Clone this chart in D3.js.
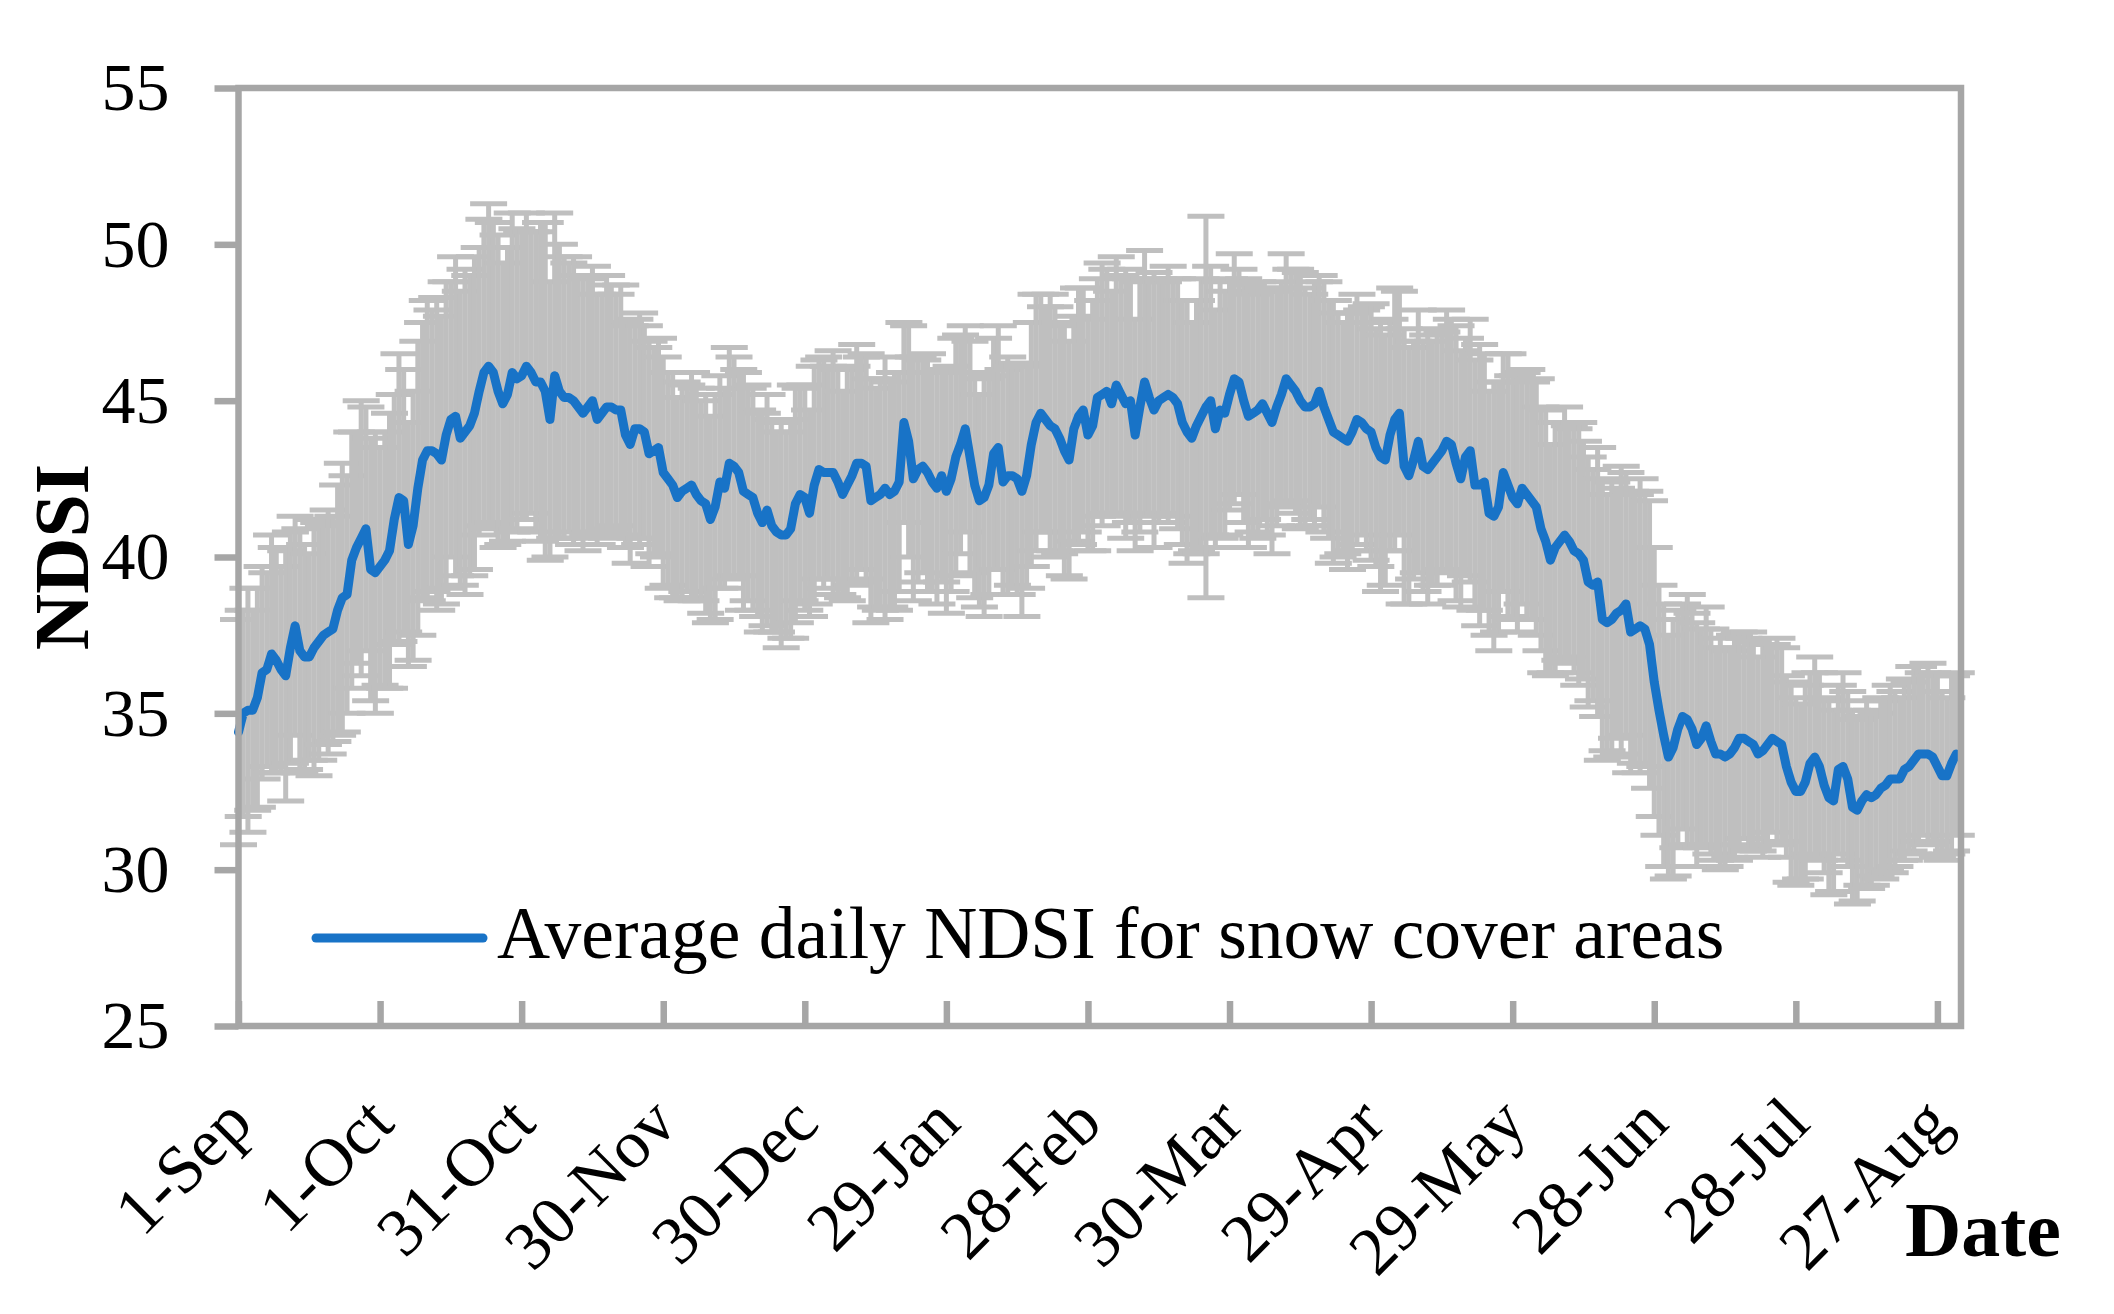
<!DOCTYPE html>
<html>
<head>
<meta charset="utf-8">
<script src="https://cdn.jsdelivr.net/npm/d3@7/dist/d3.min.js"></script>
<style>
  html, body { margin: 0; padding: 0; background: #ffffff; }
  svg { display: block; }
  text { font-family: "Liberation Serif", "Times New Roman", serif; fill: #000; }
</style>
</head>
<body>
<svg id="chart" width="2114" height="1314"></svg>
<script>
// ---------------- DATA ----------------
// Day index 0 = 1-Sep ... 364 = 31-Aug
const tickDays   = [0, 30, 60, 90, 120, 150, 180, 210, 240, 270, 300, 330, 360];
const tickLabels = ["1-Sep","1-Oct","31-Oct","30-Nov","30-Dec","29-Jan","28-Feb","30-Mar","29-Apr","29-May","28-Jun","28-Jul","27-Aug"];
const yTicks     = [25, 30, 35, 40, 45, 50, 55];
const seriesName = "Average daily NDSI for snow cover areas";

// Average daily NDSI
const ndsiMean = [
  34.4,35.0,35.1,35.1,35.5,36.3,36.4,36.9,36.7,36.4,
  36.2,37.1,37.8,37.0,36.8,36.8,37.1,37.3,37.5,37.6,
  37.7,38.3,38.7,38.8,39.9,40.3,40.6,40.9,39.6,39.5,
  39.7,39.9,40.2,41.2,41.9,41.8,40.4,41.0,42.2,43.1,
  43.4,43.4,43.3,43.1,43.9,44.4,44.5,43.8,44.0,44.2,
  44.6,45.3,45.9,46.1,45.9,45.3,44.9,45.2,45.9,45.7,
  45.8,46.1,45.9,45.6,45.6,45.3,44.4,45.8,45.3,45.1,
  45.1,45.0,44.8,44.6,44.8,45.0,44.4,44.6,44.8,44.8,
  44.7,44.7,43.9,43.6,44.1,44.1,44.0,43.3,43.4,43.5,
  42.7,42.5,42.3,41.9,42.1,42.2,42.3,42.0,41.8,41.7,
  41.2,41.6,42.4,42.2,43.0,42.9,42.7,42.1,42.0,41.9,
  41.4,41.1,41.5,41.0,40.8,40.7,40.7,40.9,41.7,42.0,
  41.9,41.4,42.3,42.8,42.7,42.7,42.7,42.4,42.0,42.3,
  42.6,43.0,43.0,42.9,41.8,41.9,42.0,42.2,42.0,42.1,
  42.4,44.3,43.7,42.5,42.8,42.9,42.7,42.4,42.2,42.6,
  42.1,42.5,43.2,43.6,44.1,43.2,42.3,41.8,41.9,42.3,
  43.3,43.5,42.4,42.6,42.6,42.5,42.1,42.6,43.6,44.3,
  44.6,44.4,44.2,44.1,43.8,43.4,43.1,44.1,44.5,44.7,
  43.9,44.2,45.1,45.2,45.3,44.9,45.5,45.2,44.9,45.0,
  43.9,44.8,45.6,45.1,44.7,45.0,45.1,45.2,45.1,44.9,
  44.3,44.0,43.8,44.2,44.5,44.8,45.0,44.1,44.7,44.6,
  45.2,45.7,45.6,45.0,44.5,44.6,44.7,44.9,44.6,44.3,
  44.8,45.2,45.7,45.5,45.3,45.0,44.8,44.8,44.9,45.3,
  44.8,44.4,44.0,43.9,43.8,43.7,44.0,44.4,44.3,44.1,
  44.0,43.5,43.2,43.1,43.9,44.4,44.6,42.9,42.6,43.1,
  43.7,42.9,42.8,43.0,43.2,43.4,43.7,43.6,43.0,42.5,
  43.2,43.4,42.3,42.3,42.4,41.4,41.3,41.6,42.7,42.3,
  41.9,41.7,42.2,42.0,41.8,41.6,40.9,40.5,39.9,40.3,
  40.5,40.7,40.5,40.2,40.1,39.9,39.2,39.1,39.2,38.0,
  37.9,38.0,38.2,38.3,38.5,37.6,37.7,37.8,37.7,37.2,
  36.0,35.1,34.3,33.6,33.9,34.5,34.9,34.8,34.5,34.0,
  34.2,34.6,34.1,33.7,33.7,33.6,33.7,33.9,34.2,34.2,
  34.1,34.0,33.7,33.8,34.0,34.2,34.1,34.0,33.3,32.8,
  32.5,32.5,32.8,33.4,33.6,33.3,32.7,32.3,32.2,33.2,
  33.3,32.9,32.0,31.9,32.2,32.4,32.3,32.4,32.6,32.7,
  32.9,32.9,32.9,33.2,33.3,33.5,33.7,33.7,33.7,33.6,
  33.3,33.0,33.0,33.4,33.7
];

// Standard deviation (error bar half-length)
const ndsiErr = [
  3.6,3.3,3.9,3.2,3.5,3.4,3.1,3.8,3.6,3.3,
  4.0,3.7,3.5,3.9,3.6,3.3,4.1,3.8,3.5,3.9,
  3.6,4.0,4.3,3.8,4.1,3.7,4.4,3.9,4.2,4.5,
  3.8,4.1,4.4,4.0,4.6,4.2,3.9,4.3,4.7,4.4,
  4.8,4.5,5.0,4.6,4.9,4.4,5.1,4.7,5.2,4.8,
  5.0,4.6,4.9,5.2,4.8,5.0,4.5,4.7,5.1,4.8,
  4.6,4.9,4.5,4.8,5.1,5.4,4.4,5.2,4.7,4.5,
  4.3,4.6,4.2,4.4,4.1,4.3,4.0,3.8,4.2,3.9,
  3.7,4.0,3.6,3.8,3.5,3.7,3.4,3.6,3.3,3.5,
  3.7,3.4,3.6,3.2,3.5,3.3,3.6,3.4,3.2,3.5,
  3.3,3.6,3.4,3.2,3.7,3.5,3.3,3.8,3.4,3.6,
  3.3,3.5,3.7,3.4,3.2,3.6,3.3,3.5,3.8,3.4,
  3.6,3.3,3.8,3.5,3.7,3.4,3.9,3.6,3.3,3.7,
  3.5,3.8,3.4,3.6,3.9,3.5,3.7,4.2,3.6,3.8,
  3.5,3.2,3.7,3.9,3.6,3.4,3.8,3.5,3.7,3.4,
  3.9,3.6,3.8,3.5,3.3,3.7,3.6,3.4,3.8,3.5,
  3.7,3.9,3.6,3.8,3.5,3.7,4.0,3.6,3.9,4.1,
  3.8,3.6,4.2,3.9,3.7,4.0,3.8,3.6,4.1,3.9,
  3.7,4.0,3.8,4.2,3.9,3.6,4.1,3.8,4.3,3.9,
  3.7,4.0,4.2,3.8,4.4,3.9,3.7,4.1,3.8,4.0,
  3.9,4.2,3.7,4.0,4.4,6.1,4.3,3.8,4.1,3.9,
  3.7,4.0,3.6,3.9,4.2,3.8,4.1,3.7,3.9,4.2,
  3.8,3.6,4.0,3.7,3.9,4.1,3.8,3.6,3.9,3.7,
  4.0,3.8,4.2,3.9,3.7,4.1,3.8,4.0,3.6,3.9,
  4.1,3.8,4.3,4.0,3.7,4.2,3.9,4.4,4.1,3.8,
  4.2,4.0,4.3,3.9,4.1,3.8,4.2,4.0,4.4,4.1,
  3.8,4.2,4.0,4.5,4.1,3.9,4.3,4.0,3.8,4.2,
  3.9,4.1,3.7,4.0,3.8,4.1,3.9,4.2,3.7,4.0,
  3.8,4.1,3.7,3.9,4.2,3.8,4.0,3.7,4.3,4.5,
  4.1,4.4,4.0,4.6,4.2,4.5,4.3,4.7,4.4,4.6,
  4.3,4.0,4.2,3.9,4.1,3.8,3.6,4.0,3.7,3.9,
  3.5,3.8,3.6,3.4,3.7,3.5,3.3,3.6,3.4,3.2,
  3.5,3.3,3.1,3.4,3.2,3.0,3.3,3.1,2.9,3.2,
  3.0,2.8,3.1,2.9,3.2,3.0,2.8,3.1,2.9,2.7,
  3.0,2.8,3.1,2.9,2.7,3.0,2.8,2.6,2.9,2.7,
  3.0,2.8,2.6,2.9,2.7,3.0,2.8,2.6,2.9,2.7,
  2.9,2.7,2.5,2.8,2.6
];

// ---------------- CHART ----------------
const svg = d3.select("#chart");
const W = 2114, H = 1314;
const plot = { left: 238.5, right: 1961, top: 88, bottom: 1026 };

const AXIS_GREY = "#a6a6a6";
const ERR_GREY  = "#bfbfbf";
const LINE_BLUE = "#1873c7";

svg.append("rect").attr("width", W).attr("height", H).attr("fill", "#ffffff");

const x = d3.scaleLinear().domain([0, 365]).range([plot.left, plot.right]);
const y = d3.scaleLinear().domain([25, 55]).range([plot.bottom, plot.top]);

const data = ndsiMean.map((m, i) => ({ day: i, mean: m, err: ndsiErr[i] }));

// error bars
const eb = svg.append("g").attr("stroke", ERR_GREY).attr("stroke-width", 5).attr("fill", "none");
const capHalf = 18.5;
data.forEach(d => {
  const xc = x(d.day), yTop = y(d.mean + d.err), yBot = y(d.mean - d.err);
  eb.append("line").attr("x1", xc).attr("x2", xc).attr("y1", yTop).attr("y2", yBot);
  eb.append("line").attr("x1", xc - capHalf).attr("x2", xc + capHalf).attr("y1", yTop).attr("y2", yTop);
  eb.append("line").attr("x1", xc - capHalf).attr("x2", xc + capHalf).attr("y1", yBot).attr("y2", yBot);
});

// mean line
const line = d3.line().x(d => x(d.day)).y(d => y(d.mean));
svg.append("path")
  .datum(data)
  .attr("d", line)
  .attr("fill", "none")
  .attr("stroke", LINE_BLUE)
  .attr("stroke-width", 9)
  .attr("stroke-linejoin", "round")
  .attr("stroke-linecap", "round");

// plot frame
svg.append("rect")
  .attr("x", plot.left).attr("y", plot.top)
  .attr("width", plot.right - plot.left).attr("height", plot.bottom - plot.top)
  .attr("fill", "none").attr("stroke", AXIS_GREY).attr("stroke-width", 6.5);

// y axis
const yAxis = svg.append("g")
  .attr("transform", `translate(${plot.left},0)`)
  .call(d3.axisLeft(y).tickValues(yTicks).tickSize(24).tickPadding(45).tickFormat(d3.format("d")));
yAxis.select(".domain").remove();
yAxis.selectAll(".tick line").attr("stroke", AXIS_GREY).attr("stroke-width", 6.5);
yAxis.selectAll(".tick text")
  .attr("font-family", "Liberation Serif, serif")
  .attr("font-size", 68)
  .attr("dy", "0.32em")
  .attr("fill", "#000");

// x axis (ticks inside)
const xAxis = svg.append("g")
  .attr("transform", `translate(0,${plot.bottom})`)
  .call(d3.axisBottom(x).tickValues(tickDays).tickSize(-25).tickFormat((d, i) => tickLabels[i]));
xAxis.select(".domain").remove();
xAxis.selectAll(".tick line").attr("stroke", AXIS_GREY).attr("stroke-width", 6.5);
xAxis.selectAll(".tick text")
  .attr("font-family", "Liberation Serif, serif")
  .attr("font-size", 68)
  .attr("fill", "#000")
  .attr("text-anchor", "end")
  .attr("x", 0).attr("y", 0).attr("dy", 0)
  .attr("transform", "translate(16,100) rotate(-45)");

// axis titles
svg.append("text")
  .attr("transform", "translate(88,557) rotate(-90)")
  .attr("text-anchor", "middle")
  .attr("font-size", 78)
  .attr("font-weight", "bold")
  .text("NDSI");

svg.append("text")
  .attr("x", 1905).attr("y", 1256)
  .attr("font-size", 78)
  .attr("font-weight", "bold")
  .text("Date");

// legend
const lg = svg.append("g");
lg.append("line")
  .attr("x1", 316).attr("x2", 483).attr("y1", 938).attr("y2", 938)
  .attr("stroke", LINE_BLUE).attr("stroke-width", 9).attr("stroke-linecap", "round");
lg.append("text")
  .attr("x", 497).attr("y", 958)
  .attr("font-size", 73.5)
  .text(seriesName);
</script>
</body>
</html>
